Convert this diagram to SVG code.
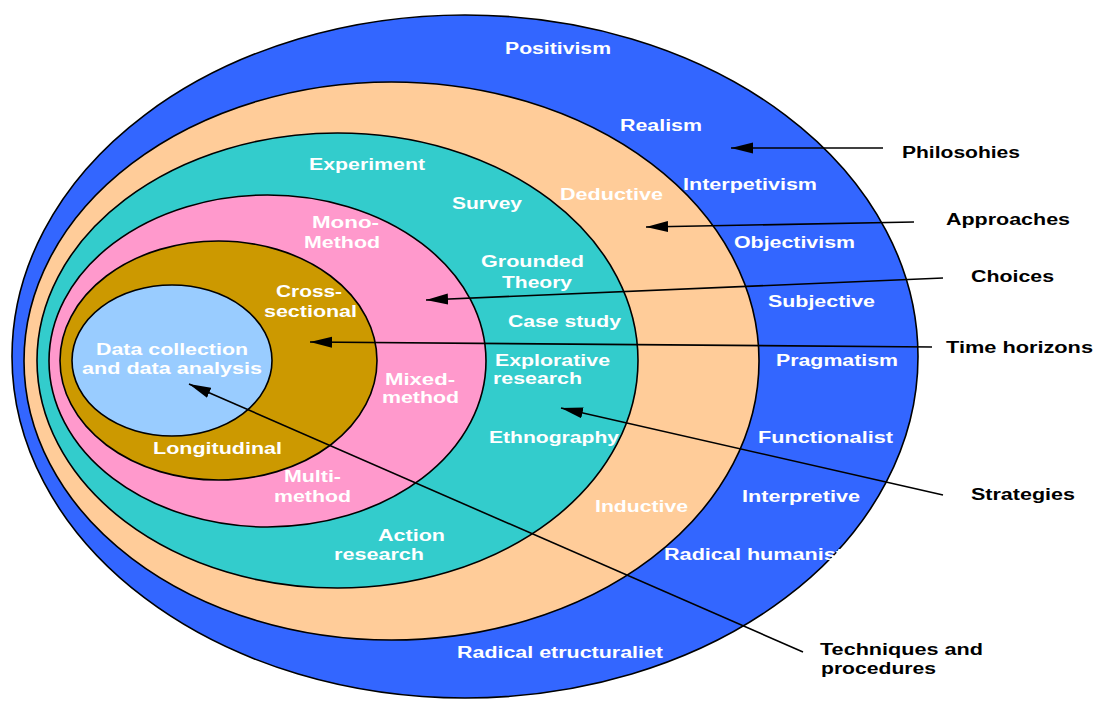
<svg xmlns="http://www.w3.org/2000/svg" width="1094" height="702" viewBox="0 0 1094 702">
<defs>
<style>
.ring{stroke:#000;stroke-width:1.6}
.w{fill:#fff;font-family:"Liberation Sans",Arial,sans-serif;font-weight:bold;font-size:16px}
.k{fill:#000;font-family:"Liberation Sans",Arial,sans-serif;font-weight:bold;font-size:16px}
.c{stroke:#000;stroke-width:1.6;fill:none}
</style>
<marker id="ah" markerUnits="userSpaceOnUse" markerWidth="24" markerHeight="12" refX="22" refY="5.5" orient="auto">
<path d="M0,0 L22,5.5 L0,11 z" fill="#000"/>
</marker>
</defs>
<rect width="1094" height="702" fill="#fff"/>
<g id="philosophies-ring">
<ellipse class="ring" cx="465" cy="356.5" rx="453" ry="341.5" fill="#3366FF"/>
<text class="w" x="505" y="54" textLength="106" lengthAdjust="spacingAndGlyphs">Positivism</text>
<text class="w" x="620" y="131" textLength="82" lengthAdjust="spacingAndGlyphs">Realism</text>
<text class="w" x="683" y="190" textLength="134" lengthAdjust="spacingAndGlyphs">Interpetivism</text>
<text class="w" x="734" y="248" textLength="121" lengthAdjust="spacingAndGlyphs">Objectivism</text>
<text class="w" x="768" y="307" textLength="107" lengthAdjust="spacingAndGlyphs">Subjective</text>
<text class="w" x="776" y="366" textLength="122" lengthAdjust="spacingAndGlyphs">Pragmatism</text>
<text class="w" x="758" y="443" textLength="135" lengthAdjust="spacingAndGlyphs">Functionalist</text>
<text class="w" x="742" y="502" textLength="118" lengthAdjust="spacingAndGlyphs">Interpretive</text>
<text class="w" x="664" y="560" textLength="179" lengthAdjust="spacingAndGlyphs">Radical humanist</text>
<text class="w" x="457" y="658" textLength="206" lengthAdjust="spacingAndGlyphs">Radical etructuraliet</text>
</g>
<g id="approaches-ring">
<ellipse class="ring" cx="391.5" cy="361" rx="367.5" ry="279" fill="#FFCC99"/>
<text class="w" x="560" y="200" textLength="103" lengthAdjust="spacingAndGlyphs">Deductive</text>
<text class="w" x="595" y="512" textLength="93" lengthAdjust="spacingAndGlyphs">Inductive</text>
</g>
<g id="strategies-ring">
<ellipse class="ring" cx="337.5" cy="360.5" rx="300.5" ry="227.5" fill="#33CCCC"/>
<text class="w" x="309" y="170" textLength="116" lengthAdjust="spacingAndGlyphs">Experiment</text>
<text class="w" x="452" y="209" textLength="70" lengthAdjust="spacingAndGlyphs">Survey</text>
<text class="w" x="481" y="267" textLength="103" lengthAdjust="spacingAndGlyphs">Grounded</text>
<text class="w" x="502" y="288" textLength="70" lengthAdjust="spacingAndGlyphs">Theory</text>
<text class="w" x="508" y="327" textLength="113" lengthAdjust="spacingAndGlyphs">Case study</text>
<text class="w" x="495" y="366" textLength="115" lengthAdjust="spacingAndGlyphs">Explorative</text>
<text class="w" x="493" y="384" textLength="89" lengthAdjust="spacingAndGlyphs">research</text>
<text class="w" x="489" y="443" textLength="130" lengthAdjust="spacingAndGlyphs">Ethnography</text>
<text class="w" x="378" y="541" textLength="67" lengthAdjust="spacingAndGlyphs">Action</text>
<text class="w" x="334" y="560" textLength="90" lengthAdjust="spacingAndGlyphs">research</text>
</g>
<g id="choices-ring">
<ellipse class="ring" cx="267.5" cy="361" rx="218.5" ry="166" fill="#FF99CC"/>
<text class="w" x="312" y="228" textLength="67" lengthAdjust="spacingAndGlyphs">Mono-</text>
<text class="w" x="304" y="248" textLength="76" lengthAdjust="spacingAndGlyphs">Method</text>
<text class="w" x="385" y="385" textLength="70" lengthAdjust="spacingAndGlyphs">Mixed-</text>
<text class="w" x="382" y="403" textLength="77" lengthAdjust="spacingAndGlyphs">method</text>
<text class="w" x="284" y="482" textLength="57" lengthAdjust="spacingAndGlyphs">Multi-</text>
<text class="w" x="274" y="502" textLength="77" lengthAdjust="spacingAndGlyphs">method</text>
</g>
<g id="time-horizons-ring">
<ellipse class="ring" cx="218.5" cy="360.5" rx="158.5" ry="119.5" fill="#CC9900"/>
<text class="w" x="276" y="297" textLength="66" lengthAdjust="spacingAndGlyphs">Cross-</text>
<text class="w" x="264" y="317" textLength="93" lengthAdjust="spacingAndGlyphs">sectional</text>
<text class="w" x="153" y="454" textLength="129" lengthAdjust="spacingAndGlyphs">Longitudinal</text>
</g>
<g id="techniques-core">
<ellipse class="ring" cx="172" cy="360.5" rx="100" ry="75.5" fill="#99CCFF"/>
<text class="w" x="96" y="355" textLength="152" lengthAdjust="spacingAndGlyphs">Data collection</text>
<text class="w" x="82" y="374" textLength="180" lengthAdjust="spacingAndGlyphs">and data analysis</text>
</g>
<g id="connectors">
<line class="c" x1="883" y1="148" x2="731" y2="148" marker-end="url(#ah)"/>
<line class="c" x1="914" y1="222" x2="646" y2="227" marker-end="url(#ah)"/>
<line class="c" x1="943" y1="278" x2="426" y2="300" marker-end="url(#ah)"/>
<line class="c" x1="932" y1="347" x2="310" y2="342" marker-end="url(#ah)"/>
<line class="c" x1="943" y1="495" x2="561" y2="408" marker-end="url(#ah)"/>
<line class="c" x1="803" y1="652" x2="189" y2="384" marker-end="url(#ah)"/>
</g>
<g id="label-philosophies"><text class="k" x="902" y="158" textLength="118" lengthAdjust="spacingAndGlyphs">Philosohies</text></g>
<g id="label-approaches"><text class="k" x="946" y="225" textLength="124" lengthAdjust="spacingAndGlyphs">Approaches</text></g>
<g id="label-choices"><text class="k" x="971" y="282" textLength="83" lengthAdjust="spacingAndGlyphs">Choices</text></g>
<g id="label-time-horizons"><text class="k" x="946" y="353" textLength="147" lengthAdjust="spacingAndGlyphs">Time horizons</text></g>
<g id="label-strategies"><text class="k" x="971" y="500" textLength="104" lengthAdjust="spacingAndGlyphs">Strategies</text></g>
<g id="label-techniques"><text class="k" x="820" y="655" textLength="163" lengthAdjust="spacingAndGlyphs">Techniques and</text><text class="k" x="821" y="674" textLength="115" lengthAdjust="spacingAndGlyphs">procedures</text></g>
</svg>
